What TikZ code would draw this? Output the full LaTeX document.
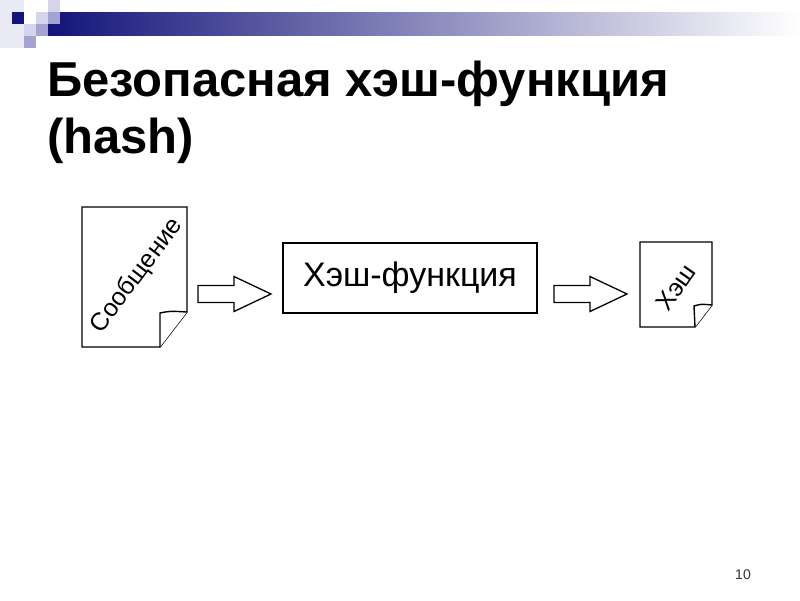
\documentclass[tikz,border=0pt]{standalone}
\usepackage{fontspec}
\setmainfont{Liberation Sans}
\definecolor{navy}{HTML}{14147A}
\definecolor{lav1}{HTML}{D4D4EA}
\definecolor{lav2}{HTML}{A4A4D2}
\definecolor{lav0}{HTML}{EAEAF4}
\begin{document}
\begin{tikzpicture}[x=1pt,y=-1pt,
  outline/.style={draw=black,line width=1.4pt,fill=white,line join=miter},
  blockarrow/.style={draw=black,line width=1.3pt,fill=white},
  label/.style={inner sep=0pt,font=\fontsize{25}{25}\selectfont},
  titletext/.style={anchor=base west,inner sep=0pt,font=\fontsize{49}{49}\selectfont\bfseries}]
\useasboundingbox (0,0) rectangle (800,600);
\fill[white] (0,0) rectangle (800,600);
% header
\fill[lav0] (0,0) rectangle (24,48);
\shade[left color=navy,right color=white] (48,12) rectangle (800,35);
\fill[navy] (12,12) rectangle (24,24);
\fill[lav1] (48,0) rectangle (60,12);
\fill[lav1] (36,12) rectangle (48,24);
\fill[lav2] (48,12) rectangle (60,24);
\fill[lav1] (24,24) rectangle (36,36);
\fill[lav2] (36,24) rectangle (48,36);
\fill[lav2] (24,36) rectangle (36,48);
% title
\node[titletext] (t1) at (47,96) {Безопасная хэш-функция};
\node[titletext] (t2) at (47,153) {(hash)};
% document 1
\draw[outline] (82,207) -- (187,207) -- (187,312) -- (160,347) -- (82,347) -- cycle;
\draw[outline] (160,347) -- (160,313) .. controls (170,311) .. (187,312);
\node[label,rotate=53] (msg) at (137,276) {Сообщение};
% arrow 1
\coordinate (a1) at (198,277);
\draw[blockarrow] ([yshift=-8.5]a1) -- ++(36,0) -- ++(0,-9) -- ++(37,17.5) -- ++(-37,17.5) -- ++(0,-9) -- ++(-36,0) -- cycle;
% hash function box
\node[draw=black,line width=1.6pt,minimum width=254pt,minimum height=70pt,inner sep=0pt,
  font=\fontsize{34}{34}\selectfont] (hf) at (410,278) {Хэш-функция};
% arrow 2
\coordinate (a2) at (554,277);
\draw[blockarrow] ([yshift=-8.5]a2) -- ++(36,0) -- ++(0,-9) -- ++(37,17.5) -- ++(-37,17.5) -- ++(0,-9) -- ++(-36,0) -- cycle;
% document 2
\draw[outline] (640,242) -- (712,242) -- (712,305) -- (695,327) -- (640,327) -- cycle;
\draw[outline] (695,327) -- (694,306) .. controls (701,304) .. (712,305);
\node[label,rotate=55] (hash) at (676,287) {Хэш};
% page number
\node[inner sep=0pt,font=\fontsize{14}{14}\selectfont,text=black!80] (pg) at (743,575) {10};
\end{tikzpicture}
\end{document}
